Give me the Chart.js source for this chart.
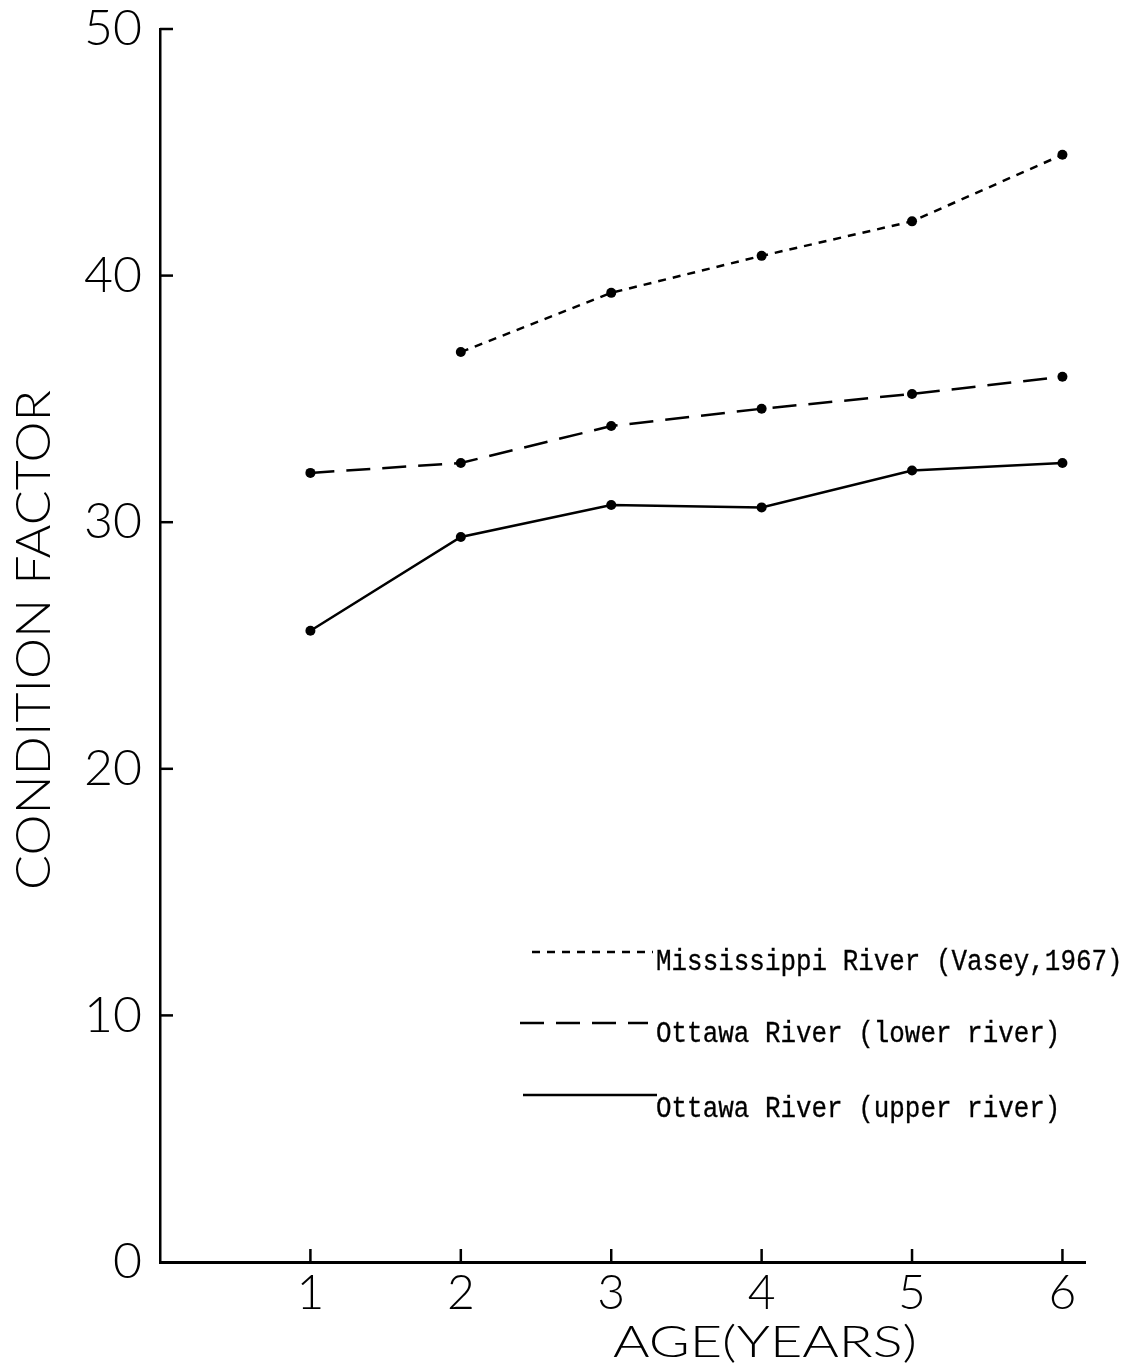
<!DOCTYPE html>
<html>
<head>
<meta charset="utf-8">
<script src="https://cdn.jsdelivr.net/npm/chart.js@4/dist/chart.umd.min.js"></script>
<style>
  html, body { margin: 0; background: #fff; }
  canvas { display: block; }
</style>
</head>
<body>
<canvas id="chart" width="1130" height="1366"></canvas>
<script>
/* ===== data ===== */
const ages = [1, 2, 3, 4, 5, 6];
const mississippi = [null, 36.9, 39.3, 40.8, 42.2, 44.9];
const ottawaLower = [32.0, 32.4, 33.9, 34.6, 35.2, 35.9];
const ottawaUpper = [25.6, 29.4, 30.7, 30.6, 32.1, 32.4];
const xTicks = [1, 2, 3, 4, 5, 6];
const yTicks = [0, 10, 20, 30, 40, 50];
const seriesNames = [
  'Mississippi River (Vasey,1967)',
  'Ottawa River (lower river)',
  'Ottawa River (upper river)'
];
const xTitle = 'AGE(YEARS)';
const yTitle = 'CONDITION FACTOR';

const toPoints = arr => ages.map((a, i) => ({ x: a, y: arr[i] })).filter(p => p.y !== null);

/* ===== helpers ===== */
// text squeezed/stretched to a given width
function fitText(ctx, txt, x, y, w) {
  const m = ctx.measureText(txt).width;
  ctx.save();
  ctx.translate(x, y);
  ctx.scale(w / m, 1);
  ctx.fillText(txt, 0, 0);
  ctx.restore();
}

/* ===== inward ticks, titles, legend ===== */
const extras = {
  id: 'extras',
  afterDraw(chart) {
    const { ctx, scales: { x, y } } = chart;
    ctx.save();
    ctx.strokeStyle = '#000';
    ctx.fillStyle = '#000';
    ctx.lineWidth = 2.5;

    // ticks pointing into the plot
    yTicks.filter(v => v > 0).forEach(v => {
      const py = y.getPixelForValue(v);
      ctx.beginPath(); ctx.moveTo(x.left, py); ctx.lineTo(x.left + 13, py); ctx.stroke();
    });
    xTicks.forEach(v => {
      const px = x.getPixelForValue(v);
      ctx.beginPath(); ctx.moveTo(px, y.bottom); ctx.lineTo(px, y.bottom - 13); ctx.stroke();
    });

    // axis titles
    ctx.font = '300 44px Lato';
    ctx.textBaseline = 'alphabetic';
    fitText(ctx, xTitle, 613, 1357, 304);

    ctx.save();
    ctx.font = '300 48px Lato';
    ctx.translate(50, 890);
    ctx.rotate(-Math.PI / 2);
    fitText(ctx, yTitle, 0, 0, 500);
    ctx.restore();

    // legend
    const rows = [
      { line: [532, 653], ly: 952, ty: 970 },
      { line: [520, 648], ly: 1023, ty: 1042 },
      { line: [523, 657], ly: 1095, ty: 1117 }
    ];
    ctx.font = '27px "Liberation Mono"';
    chart.data.datasets.forEach((ds, i) => {
      const r = rows[i];
      ctx.setLineDash(ds.borderDash || []);
      ctx.lineWidth = 2.5;
      ctx.beginPath(); ctx.moveTo(r.line[0], r.ly); ctx.lineTo(r.line[1], r.ly); ctx.stroke();
      ctx.setLineDash([]);
      ctx.lineWidth = 0.3;
      ctx.save();
      ctx.translate(656, r.ty);
      ctx.scale(0.96, 1.08);
      ctx.fillText(seriesNames[i], 0, 0);
      ctx.strokeText(seriesNames[i], 0, 0);
      ctx.restore();
    });
    ctx.restore();
  }
};

const baseDs = {
  borderColor: '#000',
  borderWidth: 2.5,
  pointRadius: 5,
  pointBackgroundColor: '#000',
  pointBorderWidth: 0,
  tension: 0
};

new Chart(document.getElementById('chart'), {
  type: 'line',
  data: {
    datasets: [
      { ...baseDs, label: seriesNames[0], data: toPoints(mississippi), borderDash: [8, 7] },
      { ...baseDs, label: seriesNames[1], data: toPoints(ottawaLower), borderDash: [24, 12] },
      { ...baseDs, label: seriesNames[2], data: toPoints(ottawaUpper) }
    ]
  },
  options: {
    responsive: false,
    animation: false,
    devicePixelRatio: 1,
    layout: { padding: { top: 29, right: 45, left: 0, bottom: 0 } },
    plugins: { legend: { display: false }, tooltip: { enabled: false } },
    scales: {
      x: {
        type: 'linear',
        min: 0,
        max: 6.15,
        afterBuildTicks: s => { s.ticks = xTicks.map(v => ({ value: v })); },
        afterFit: s => { s.height = 104; },
        grid: { display: false },
        border: { display: true, color: '#000', width: 3 },
        ticks: {
          color: '#000',
          padding: 0,
          maxRotation: 0,
          font: { family: 'Lato', weight: 300, size: 48, lineHeight: 1 }
        }
      },
      y: {
        min: 0,
        max: 50,
        afterBuildTicks: s => { s.ticks = yTicks.map(v => ({ value: v })); },
        afterFit: s => { s.width = 160; },
        grid: { display: false },
        border: { display: true, color: '#000', width: 2.5 },
        ticks: {
          color: '#000',
          padding: 10,
          font: { family: 'Lato', weight: 300, size: 50, lineHeight: 0.5 }
        }
      }
    }
  },
  plugins: [extras]
});
</script>
</body>
</html>
